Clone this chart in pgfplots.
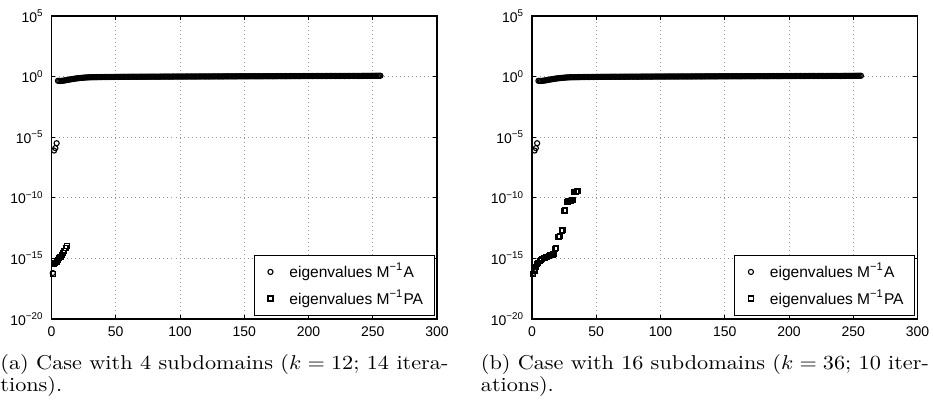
\documentclass[border=0pt]{standalone}
\usepackage{fontspec}
\newfontfamily\hel{Liberation Sans}
\usepackage{graphicx}
\usepackage{pgfplots}
\pgfplotsset{compat=1.18}
\usepackage{pgfplotstable}

\newlength\px
\setlength\px{0.45pt}

% eigenvalues of M^{-1}A (same in both panels)
\pgfplotstableread[row sep=\\]{
x y\\
1 6.3e-17\\ 2 7.9e-7\\ 3 1.26e-6\\ 4 3.2e-6\\
5 0.45\\ 6 0.44\\ 7 0.44\\ 8 0.45\\ 9 0.46\\ 10 0.48\\ 11 0.50\\ 12 0.52\\ 13 0.55\\ 14 0.57\\
15 0.60\\ 16 0.62\\ 17 0.65\\ 18 0.67\\ 19 0.70\\ 20 0.72\\ 21 0.74\\ 22 0.76\\ 23 0.78\\ 24 0.80\\
25 0.82\\ 26 0.83\\ 27 0.85\\ 28 0.86\\ 29 0.87\\ 30 0.88\\ 31 0.89\\ 32 0.89\\ 33 0.89\\ 34 0.90\\
35 0.90\\ 36 0.91\\ 37 0.91\\ 38 0.91\\ 39 0.92\\ 40 0.92\\ 41 0.92\\ 42 0.93\\ 43 0.93\\ 44 0.93\\
45 0.93\\ 46 0.94\\ 47 0.94\\ 48 0.94\\ 49 0.94\\ 50 0.95\\ 51 0.95\\ 52 0.95\\ 53 0.95\\ 54 0.95\\
55 0.96\\ 56 0.96\\ 57 0.96\\ 58 0.96\\ 59 0.96\\ 60 0.96\\ 61 0.97\\ 62 0.97\\ 63 0.97\\ 64 0.97\\
65 0.97\\ 66 0.97\\ 67 0.97\\ 68 0.97\\ 69 0.98\\ 70 0.98\\ 71 0.98\\ 72 0.98\\ 73 0.98\\ 74 0.98\\
75 0.98\\ 76 0.99\\ 77 0.99\\ 78 0.99\\ 79 0.99\\ 80 0.99\\ 81 0.99\\ 82 0.99\\ 83 0.99\\ 84 0.99\\
85 1.00\\ 86 1.00\\ 87 1.00\\ 88 1.00\\ 89 1.00\\ 90 1.00\\ 91 1.00\\ 92 1.00\\ 93 1.00\\ 94 1.00\\
95 1.01\\ 96 1.01\\ 97 1.01\\ 98 1.01\\ 99 1.01\\ 100 1.01\\ 101 1.01\\ 102 1.01\\ 103 1.01\\ 104 1.01\\
105 1.02\\ 106 1.02\\ 107 1.02\\ 108 1.02\\ 109 1.02\\ 110 1.02\\ 111 1.02\\ 112 1.02\\ 113 1.02\\ 114 1.02\\
115 1.03\\ 116 1.03\\ 117 1.03\\ 118 1.03\\ 119 1.03\\ 120 1.03\\ 121 1.03\\ 122 1.03\\ 123 1.03\\ 124 1.03\\
125 1.04\\ 126 1.04\\ 127 1.04\\ 128 1.04\\ 129 1.04\\ 130 1.04\\ 131 1.04\\ 132 1.04\\ 133 1.04\\ 134 1.04\\
135 1.05\\ 136 1.05\\ 137 1.05\\ 138 1.05\\ 139 1.05\\ 140 1.05\\ 141 1.05\\ 142 1.05\\ 143 1.05\\ 144 1.05\\
145 1.06\\ 146 1.06\\ 147 1.06\\ 148 1.06\\ 149 1.06\\ 150 1.06\\ 151 1.06\\ 152 1.06\\ 153 1.06\\ 154 1.06\\
155 1.07\\ 156 1.07\\ 157 1.07\\ 158 1.07\\ 159 1.07\\ 160 1.07\\ 161 1.07\\ 162 1.07\\ 163 1.07\\ 164 1.07\\
165 1.08\\ 166 1.08\\ 167 1.08\\ 168 1.08\\ 169 1.08\\ 170 1.08\\ 171 1.08\\ 172 1.08\\ 173 1.08\\ 174 1.08\\
175 1.09\\ 176 1.09\\ 177 1.09\\ 178 1.09\\ 179 1.09\\ 180 1.09\\ 181 1.09\\ 182 1.09\\ 183 1.09\\ 184 1.09\\
185 1.10\\ 186 1.10\\ 187 1.10\\ 188 1.10\\ 189 1.10\\ 190 1.10\\ 191 1.10\\ 192 1.10\\ 193 1.10\\ 194 1.10\\
195 1.11\\ 196 1.11\\ 197 1.11\\ 198 1.11\\ 199 1.11\\ 200 1.11\\ 201 1.11\\ 202 1.11\\ 203 1.11\\ 204 1.11\\
205 1.12\\ 206 1.12\\ 207 1.12\\ 208 1.12\\ 209 1.12\\ 210 1.12\\ 211 1.12\\ 212 1.12\\ 213 1.12\\ 214 1.12\\
215 1.13\\ 216 1.13\\ 217 1.13\\ 218 1.13\\ 219 1.13\\ 220 1.13\\ 221 1.13\\ 222 1.13\\ 223 1.13\\ 224 1.13\\
225 1.13\\ 226 1.13\\ 227 1.13\\ 228 1.13\\ 229 1.13\\ 230 1.14\\ 231 1.14\\ 232 1.14\\ 233 1.14\\ 234 1.14\\
235 1.14\\ 236 1.14\\ 237 1.14\\ 238 1.14\\ 239 1.14\\ 240 1.14\\ 241 1.14\\ 242 1.15\\ 243 1.15\\ 244 1.15\\
245 1.15\\ 246 1.15\\ 247 1.15\\ 248 1.15\\ 249 1.15\\ 250 1.16\\ 251 1.16\\ 252 1.16\\ 253 1.17\\ 254 1.17\\
255 1.18\\ 256 1.18\\
}\tabA

% eigenvalues of M^{-1}PA, 4 subdomains (k = 12)
\pgfplotstableread[row sep=\\]{
x y\\
1 5.0e-17\\ 2 3.2e-16\\ 3 4.0e-16\\ 4 5.6e-16\\ 5 7.9e-16\\ 6 1.0e-15\\
7 1.26e-15\\ 8 1.8e-15\\ 9 2.8e-15\\ 10 4.0e-15\\ 11 7.1e-15\\ 12 1.0e-14\\
}\tabPAfour

% eigenvalues of M^{-1}PA, 16 subdomains (k = 36)
\pgfplotstableread[row sep=\\]{
x y\\
1 5.0e-17\\ 2 1.0e-16\\ 3 2.0e-16\\ 4 3.2e-16\\ 5 4.0e-16\\ 6 6.3e-16\\
7 7.9e-16\\ 8 8.9e-16\\ 9 1.0e-15\\ 10 1.12e-15\\ 11 1.26e-15\\ 12 1.41e-15\\
13 1.58e-15\\ 14 1.78e-15\\ 15 2.0e-15\\ 16 2.1e-15\\ 17 2.24e-15\\ 18 6.3e-15\\
19 7.1e-15\\ 20 5.6e-14\\ 21 6.3e-14\\ 22 7.1e-14\\ 23 2.0e-13\\ 24 2.24e-13\\
25 7.9e-12\\ 26 8.9e-12\\ 27 4.5e-11\\ 28 5.0e-11\\ 29 5.2e-11\\ 30 5.6e-11\\
31 6.3e-11\\ 32 6.6e-11\\ 33 2.8e-10\\ 34 3.2e-10\\ 35 3.4e-10\\ 36 3.6e-10\\
}\tabPAsixteen

\pgfplotsset{
  legend image code/.code={\path (0cm,0cm) (0.36cm,0cm);
    \draw[#1] plot coordinates {(0.14cm,0cm)};},
}

\begin{document}
\begin{tikzpicture}
\path[use as bounding box, clip] (0,0) rectangle (933\px,406\px);

\begin{semilogyaxis}[
    at={(51.5\px,87\px)}, anchor=south west,
    scale only axis, width=385.5\px, height=303\px,
    xmin=0, xmax=300, ymin=1e-20, ymax=1e5,
    xtick={0,50,...,300}, xticklabels={0,50,100,150,200,250,300},
    ytick={1e-20,1e-15,1e-10,1e-5,1,1e5},
    yticklabels={10\textsuperscript{−20},10\textsuperscript{−15},10\textsuperscript{−10},10\textsuperscript{−5},10\textsuperscript{0},10\textsuperscript{5}},
    minor tick num=0,
    tick align=inside, major tick length=4\px,
    grid=major,
    major grid style={gray!80, line width=0.4pt, dash pattern=on 0.4pt off 1.4pt},
    axis line style={line width=0.6pt},
    every tick/.style={black, line width=0.4pt},
    ticklabel style={font=\hel\fontsize{6.3}{7}\selectfont},
    clip=false,
    legend cell align=left,
    legend style={at={(1,0)}, anchor=south east, xshift=-1pt, yshift=1.5pt,
      font=\hel\fontsize{7}{8}\selectfont, draw=black, line width=0.5pt,
      inner xsep=3pt, inner ysep=1.5pt},
  ]
\addplot[only marks, mark=o, mark size=1.15pt, black, line width=0.5pt] table[x=x, y=y] {\tabA};
\addlegendentry{eigenvalues M\textsuperscript{−1}A}
\addplot[only marks, mark=square, mark size=1.1pt, black, line width=0.55pt] table[x=x, y=y] {\tabPAfour};
\addlegendentry{eigenvalues M\textsuperscript{−1}PA}
\end{semilogyaxis}

\begin{semilogyaxis}[
    at={(532\px,87\px)}, anchor=south west,
    scale only axis, width=385.5\px, height=303\px,
    xmin=0, xmax=300, ymin=1e-20, ymax=1e5,
    xtick={0,50,...,300}, xticklabels={0,50,100,150,200,250,300},
    ytick={1e-20,1e-15,1e-10,1e-5,1,1e5},
    yticklabels={10\textsuperscript{−20},10\textsuperscript{−15},10\textsuperscript{−10},10\textsuperscript{−5},10\textsuperscript{0},10\textsuperscript{5}},
    minor tick num=0,
    tick align=inside, major tick length=4\px,
    grid=major,
    major grid style={gray!80, line width=0.4pt, dash pattern=on 0.4pt off 1.4pt},
    axis line style={line width=0.6pt},
    every tick/.style={black, line width=0.4pt},
    ticklabel style={font=\hel\fontsize{6.3}{7}\selectfont},
    clip=false,
    legend cell align=left,
    legend style={at={(1,0)}, anchor=south east, xshift=-1pt, yshift=1.5pt,
      font=\hel\fontsize{7}{8}\selectfont, draw=black, line width=0.5pt,
      inner xsep=3pt, inner ysep=1.5pt},
  ]
\addplot[only marks, mark=o, mark size=1.15pt, black, line width=0.5pt] table[x=x, y=y] {\tabA};
\addlegendentry{eigenvalues M\textsuperscript{−1}A}
\addplot[only marks, mark=square, mark size=1.1pt, black, line width=0.55pt] table[x=x, y=y] {\tabPAsixteen};
\addlegendentry{eigenvalues M\textsuperscript{−1}PA}
\end{semilogyaxis}

\node[anchor=base west, inner sep=0pt] at (0\px,37\px)
  {\scalebox{1}[0.9]{\hbox to 448\px{(a) Case with 4 subdomains ($k=12$; 14 itera-}}};
\node[anchor=base west, inner sep=0pt] at (0\px,15\px)
  {\scalebox{1}[0.9]{tions).}};

\node[anchor=base west, inner sep=0pt] at (480.5\px,37\px)
  {\scalebox{1}[0.9]{\hbox to 448\px{(b) Case with 16 subdomains ($k=36$; 10 iter-}}};
\node[anchor=base west, inner sep=0pt] at (480.5\px,15\px)
  {\scalebox{1}[0.9]{ations).}};
\end{tikzpicture}
\end{document}
